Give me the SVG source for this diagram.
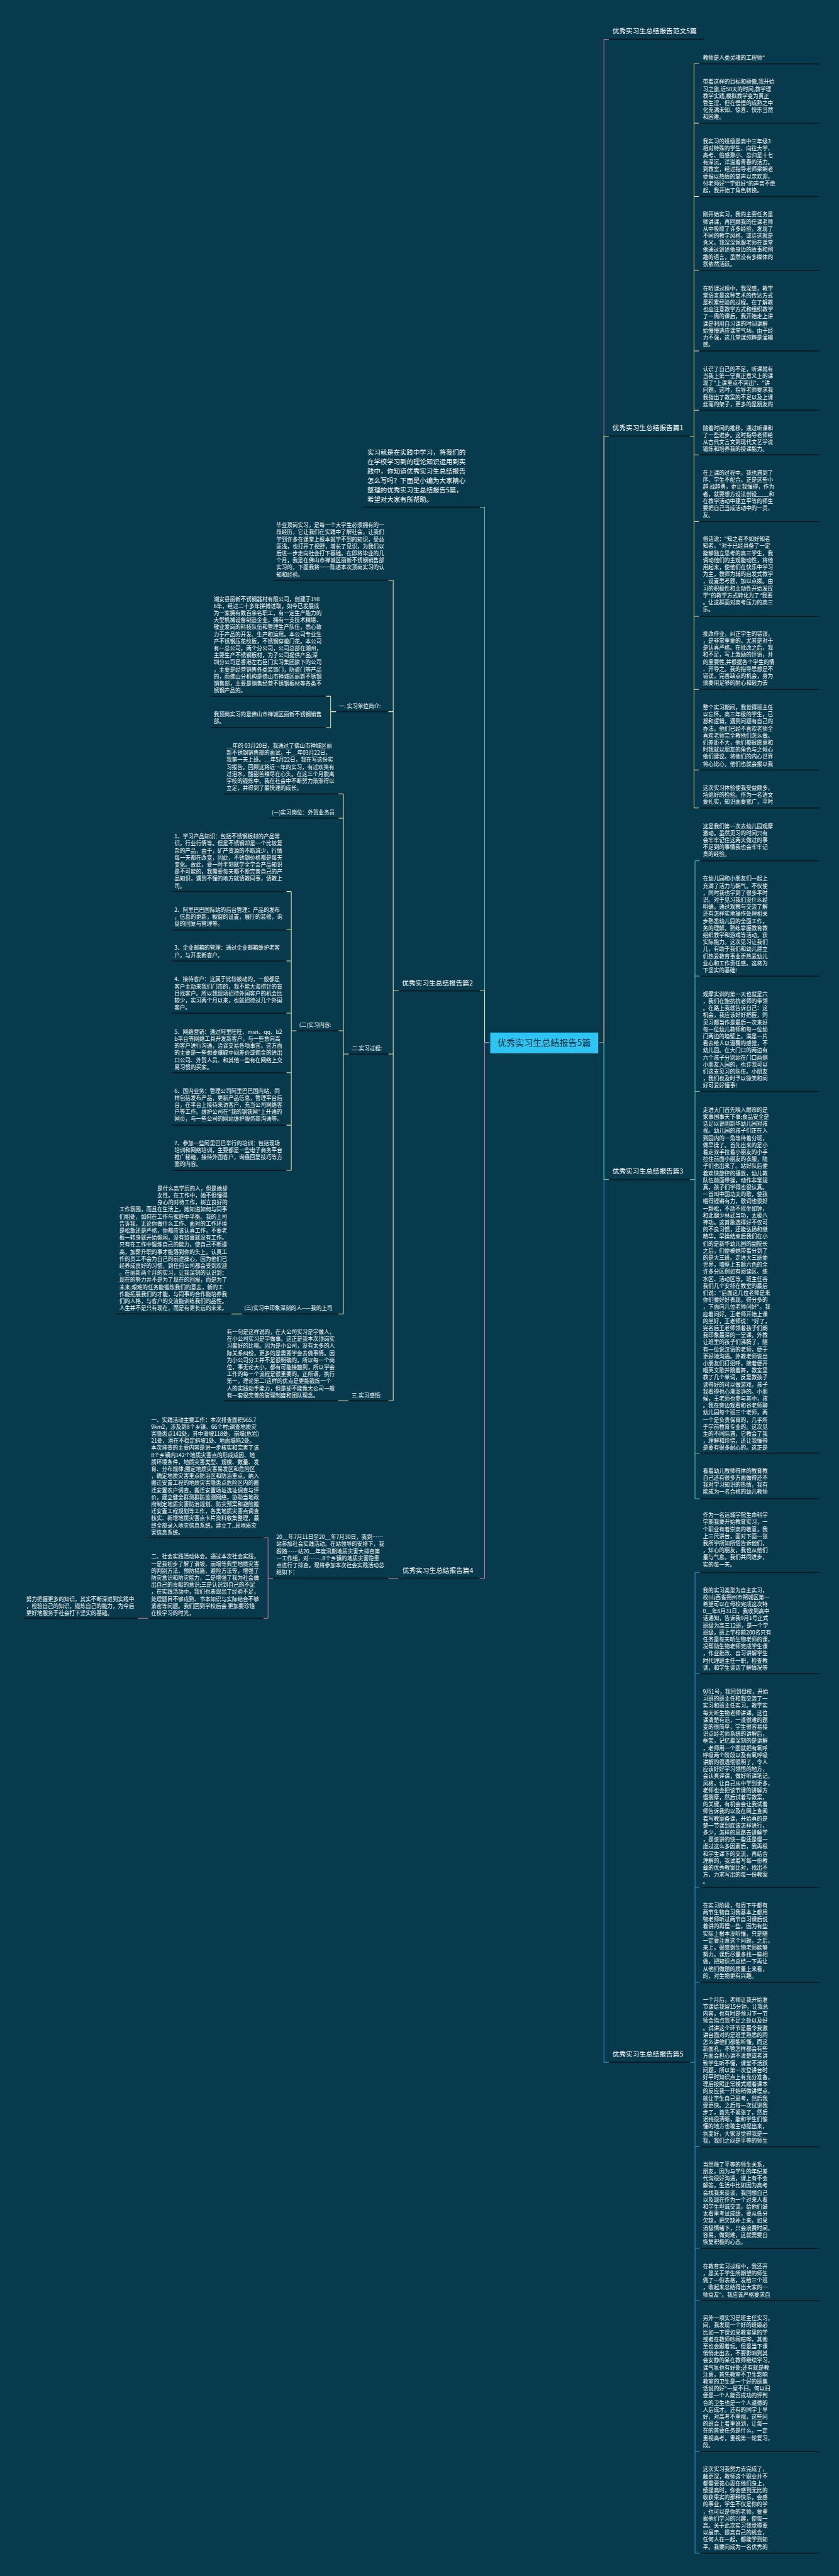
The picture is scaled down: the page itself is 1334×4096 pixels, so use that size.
<svg xmlns="http://www.w3.org/2000/svg" width="1334" height="4096" viewBox="0 0 1334 4096">
<style>
.t{font-family:"Noto Sans CJK SC","Liberation Sans",sans-serif;fill:#ffffff;font-size:16.5px}
.lb{font-size:20.5px}
.in{font-size:20px}
.ul{stroke:#0b1b23;stroke-width:3.5;fill:none}
.cy{stroke:#efe3a2;stroke-width:2;fill:none}
.cp{stroke:#d4729a;stroke-width:2;fill:none}
.ct{stroke:#52c7a6;stroke-width:2;fill:none}
.cb{stroke:#3b92c6;stroke-width:2;fill:none}
</style>
<rect width="1334" height="4096" fill="#063a4c"/>
<g transform="scale(0.521)">
<g id="connectors">
<path class="cp" d="M1827 3182H1843V120H1858"/>
<path class="cy" d="M1843 3182V1331H1858"/>
<path class="cb" d="M1843 3182V6294H1858"/>
<path class="ct" d="M1843 3182V3600H1858"/>
<path class="ct" d="M1495 3182H1479V1548H1464"/>
<path class="cy" d="M1479 3182V3024H1464"/>
<path class="cp" d="M1495 3182H1479V4817H1464"/>
<path class="cy" d="M2105 1331H2118M2118 195V2466M2118 195H2134M2118 376H2134M2118 600H2134M2118 825H2134M2118 1071H2134M2118 1252H2134M2118 1388H2134M2118 1592H2134M2118 1881H2134M2118 2104H2134M2118 2350H2134M2118 2466H2134"/>
<path class="ct" d="M2105 3600H2121M2121 2627V4574M2121 2627H2136M2121 2979H2136M2121 3331H2136M2121 4435H2136M2121 4574H2136"/>
<path class="cb" d="M2105 6294H2121M2121 4799V7792M2121 4799H2136M2121 5108H2136M2121 5760H2136M2121 6050H2136M2121 6552H2136M2121 6862H2136M2121 7021H2136M2121 7482H2136M2121 7792H2136"/>
<path class="cy" d="M1217 3024H1200M1200 1771V4275M1200 1771H1185M1200 2172H1185M1200 3217H1185M1200 4275H1185"/>
<path class="cy" d="M1026 2172H1009M1009 2125V2221M1009 2125H994M1009 2221H994"/>
<path class="cy" d="M1065 3217H1048M1048 2423V4010M1048 2423H1033M1048 2497H1033M1048 3146H1033M1048 4010H1033"/>
<path class="cy" d="M905 3146H889M889 2721V3572M889 2721H874M889 2838H874M889 2933H874M889 3092H874M889 3274H874M889 3434H874M889 3572H874"/>
<path class="cy" d="M739 4010H706M1064 4275H1032"/>
<path class="cp" d="M1216 4817H1185M833 4817H818M818 4693V4939M818 4693H804M818 4939H804M453 4939H421"/>
</g>
<g id="central">
<rect x="1495" y="3150" width="332" height="66" fill="#2ec4f3" stroke="#0a2632" stroke-width="2"/>
<text class="t" x="1661" y="3192" text-anchor="middle" style="fill:#16323f;font-size:27px">优秀实习生总结报告5篇</text>
</g>
<g id="b0"><line class="ul" x1="1858" y1="120" x2="2148" y2="120"/><text class="t lb" x="1869" y="101">优秀实习生总结报告范文5篇</text></g>
<g id="b1"><line class="ul" x1="1858" y1="1331" x2="2105" y2="1331"/><text class="t lb" x="1869" y="1312">优秀实习生总结报告篇1</text></g>
<g id="b3"><line class="ul" x1="1858" y1="3600" x2="2105" y2="3600"/><text class="t lb" x="1869" y="3582">优秀实习生总结报告篇3</text></g>
<g id="b5"><line class="ul" x1="1858" y1="6294" x2="2105" y2="6294"/><text class="t lb" x="1869" y="6276">优秀实习生总结报告篇5</text></g>
<g id="b2"><line class="ul" x1="1217" y1="3024" x2="1464" y2="3024"/><text class="t lb" x="1227" y="3007">优秀实习生总结报告篇2</text></g>
<g id="b4"><line class="ul" x1="1216" y1="4817" x2="1464" y2="4817"/><text class="t lb" x="1228" y="4800">优秀实习生总结报告篇4</text></g>
<g id="intro"><line class="ul" x1="1109" y1="1548" x2="1464" y2="1548"/>
<text class="t in" x="1121" y="1388"><tspan>实习就是在实践中学习，将我们的</tspan><tspan x="1121" dy="28.6">在学校学习到的理论知识运用到实</tspan><tspan x="1121" dy="28.6">践中，你知道优秀实习生总结报告</tspan><tspan x="1121" dy="28.6">怎么写吗？下面是小编为大家精心</tspan><tspan x="1121" dy="28.6">整理的优秀实习生总结报告5篇，</tspan><tspan x="1121" dy="28.6">希望对大家有所帮助。</tspan></text></g>
<g id="p2a"><line class="ul" x1="834" y1="1771" x2="1185" y2="1771"/>
<text class="t" x="843" y="1609"><tspan>毕业顶岗实习，是每一个大学生必须拥有的一</tspan><tspan x="843" dy="21.5">段经历，它让我们在实践中了解社会，让我们</tspan><tspan x="843" dy="21.5">学到许多在课堂上根本就学不到的知识，受益</tspan><tspan x="843" dy="21.5">匪浅，也打开了视野，增长了见识，为我们以</tspan><tspan x="843" dy="21.5">后进一步走向社会打下基础。在即将毕业的几</tspan><tspan x="843" dy="21.5">个月，我是在佛山市禅城区丽新不锈钢销售部</tspan><tspan x="843" dy="21.5">实习的，下面我将一一陈述本次顶岗实习的认</tspan><tspan x="843" dy="21.5">知和经验。</tspan></text></g>
<g id="p2b"><line class="ul" x1="1026" y1="2172" x2="1185" y2="2172"/><text class="t" x="1034" y="2161">一. 实习单位简介:</text></g>
<g id="p2b1"><line class="ul" x1="644" y1="2125" x2="994" y2="2125"/>
<text class="t" x="652" y="1834"><tspan>潮安县丽新不锈钢器材有限公司，创建于198</tspan><tspan x="652" dy="21.5">6年，经过二十多年拼搏进取，如今已发展成</tspan><tspan x="652" dy="21.5">为一家拥有数百余名职工，有一定生产能力的</tspan><tspan x="652" dy="21.5">大型机械设备制造企业。拥有一支技术精堪、</tspan><tspan x="652" dy="21.5">敬业爱岗的科技队伍和管理生产队伍，悉心致</tspan><tspan x="652" dy="21.5">力于产品的开发、生产和运用。本公司专业生</tspan><tspan x="652" dy="21.5">产不锈钢压花纹板，不锈钢穿梭门花。本公司</tspan><tspan x="652" dy="21.5">有一总公司，两个分公司，公司总部在潮州，</tspan><tspan x="652" dy="21.5">主要生产不锈钢板材，为子公司提供产品;深</tspan><tspan x="652" dy="21.5">圳分公司是香港左右臣门实习集团旗下的公司</tspan><tspan x="652" dy="21.5">，主要是经营销售各类装饰门，防盗门等产品</tspan><tspan x="652" dy="21.5">的，而佛山分机构是佛山市禅城区丽新不锈钢</tspan><tspan x="652" dy="21.5">销售部，主要是销售经营不锈钢板材等各类不</tspan><tspan x="652" dy="21.5">锈钢产品的。</tspan></text></g>
<g id="p2b2"><line class="ul" x1="644" y1="2221" x2="994" y2="2221"/>
<text class="t" x="652" y="2186"><tspan>我顶岗实习的是佛山市禅城区丽新不锈钢销售</tspan><tspan x="652" dy="21.5">部。</tspan></text></g>
<g id="p2c"><line class="ul" x1="1065" y1="3217" x2="1185" y2="3217"/><text class="t" x="1074" y="3205">二.实习过程:</text></g>
<g id="p2c1"><line class="ul" x1="683" y1="2423" x2="1033" y2="2423"/>
<text class="t" x="691" y="2282"><tspan>__年的 03月20日，我通过了佛山市禅城区丽</tspan><tspan x="691" dy="21.5">新不锈钢销售部的面试，于__年03月22日，</tspan><tspan x="691" dy="21.5">我第一天上班。__年5月22日，我在写这份实</tspan><tspan x="691" dy="21.5">习报告。回顾这将近一年的实习，有过欢笑有</tspan><tspan x="691" dy="21.5">过泪水，酸甜苦辣尽在心头。在这三个月脱离</tspan><tspan x="691" dy="21.5">学校的锻炼中，我在社会中不断努力渐渐得以</tspan><tspan x="691" dy="21.5">立足，并得到了最快速的成长。</tspan></text></g>
<g id="p2c2"><line class="ul" x1="821" y1="2497" x2="1033" y2="2497"/><text class="t" x="829" y="2485">(一)实习岗位：外贸业务员</text></g>
<g id="p2c3"><line class="ul" x1="905" y1="3146" x2="1033" y2="3146"/><text class="t" x="913" y="3134">(二)实习内容:</text></g>
<g id="p2c31"><line class="ul" x1="524" y1="2721" x2="874" y2="2721"/>
<text class="t" x="532" y="2559"><tspan>1、学习产品知识：包括不锈钢板材的产品常</tspan><tspan x="532" dy="21.5">识，行业行情等。但是不锈钢却是一个比较复</tspan><tspan x="532" dy="21.5">杂的产品，由于，矿产资源的不断减少，行情</tspan><tspan x="532" dy="21.5">每一天都在改变，因此，不锈钢价格都是每天</tspan><tspan x="532" dy="21.5">变化。故此，要一时半刻就学全学会产品知识</tspan><tspan x="532" dy="21.5">是不可能的，我需要每天都不断完善自己的产</tspan><tspan x="532" dy="21.5">品知识，遇到不懂的地方就请教同事，请教上</tspan><tspan x="532" dy="21.5">司。</tspan></text></g>
<g id="p2c32"><line class="ul" x1="524" y1="2838" x2="874" y2="2838"/>
<text class="t" x="532" y="2783"><tspan>2、阿里巴巴国际站的后台管理：产品的发布</tspan><tspan x="532" dy="21.5">，信息的更新，橱窗的设置，展厅的装修，询</tspan><tspan x="532" dy="21.5">盘的回复与管理等。</tspan></text></g>
<g id="p2c33"><line class="ul" x1="524" y1="2933" x2="874" y2="2933"/>
<text class="t" x="532" y="2899"><tspan>3、企业邮箱的管理：通过企业邮箱维护老客</tspan><tspan x="532" dy="21.5">户，与开发新客户。</tspan></text></g>
<g id="p2c34"><line class="ul" x1="524" y1="3092" x2="874" y2="3092"/>
<text class="t" x="532" y="2995"><tspan>4、接待客户：这属于比较被动的，一般都是</tspan><tspan x="532" dy="21.5">客户主动来我们门市的，我不能大海捞针的盲</tspan><tspan x="532" dy="21.5">目找客户。所以我现场招待外国客户的机会比</tspan><tspan x="532" dy="21.5">较少，实习两个月以来，也就招待过几个外国</tspan><tspan x="532" dy="21.5">客户。</tspan></text></g>
<g id="p2c35"><line class="ul" x1="524" y1="3274" x2="874" y2="3274"/>
<text class="t" x="532" y="3155"><tspan>5、网络营销：通过阿里旺旺、msn、qq、b2</tspan><tspan x="532" dy="21.5">b平台等网络工具开发新客户，与一些意向高</tspan><tspan x="532" dy="21.5">的客户进行沟通，洽谈交易各项事宜。这方面</tspan><tspan x="532" dy="21.5">的主要是一些想要赚取中间差价或佣金的进出</tspan><tspan x="532" dy="21.5">口公司、外贸人员、和其他一些有在网络上交</tspan><tspan x="532" dy="21.5">易习惯的买家。</tspan></text></g>
<g id="p2c36"><line class="ul" x1="524" y1="3434" x2="874" y2="3434"/>
<text class="t" x="532" y="3335"><tspan>6、国内业务：管理公司阿里巴巴国内站，同</tspan><tspan x="532" dy="21.5">样包括发布产品，更新产品信息，管理平台后</tspan><tspan x="532" dy="21.5">台，在平台上接待来访客户，充当公司网络客</tspan><tspan x="532" dy="21.5">户等工作。维护公司在"我的钢铁网"上开通的</tspan><tspan x="532" dy="21.5">网页，与一些公司的网站维护服务商沟通等。</tspan></text></g>
<g id="p2c37"><line class="ul" x1="524" y1="3572" x2="874" y2="3572"/>
<text class="t" x="532" y="3495"><tspan>7、参加一些阿里巴巴举行的培训：包括现场</tspan><tspan x="532" dy="21.5">培训和网络培训，主要都是一些电子商务平台</tspan><tspan x="532" dy="21.5">推广秘籍，接待外国客户，询盘回复技巧等方</tspan><tspan x="532" dy="21.5">面的内容。</tspan></text></g>
<g id="p2c4"><line class="ul" x1="739" y1="4010" x2="1033" y2="4010"/><text class="t" x="745" y="3998">(三)实习中印象深刻的人——我的上司</text></g>
<g id="p2c41"><line class="ul" x1="356" y1="4010" x2="706" y2="4010"/>
<text class="t" x="480" y="3633"><tspan>是什么高学历的人，但是她却</tspan><tspan x="480" dy="21.5">女性。在工作中，她不但懂得</tspan><tspan x="480" dy="21.5">身心的对待工作，树立良好的</tspan><tspan x="364" dy="21.5">工作氛围，而且在生活上，她知道如何与同事</tspan><tspan x="364" dy="21.5">们相处，如何在工作与家庭中平衡。我的上司</tspan><tspan x="364" dy="21.5">告诉我，无论你做什么工作、面对的工作环境</tspan><tspan x="364" dy="21.5">是松散还是严格，你都应该认真工作，不要老</tspan><tspan x="364" dy="21.5">板一转身就开始偷闲，没有监督就没有工作。</tspan><tspan x="364" dy="21.5">只有在工作中锻炼自己的能力，使自己不断提</tspan><tspan x="364" dy="21.5">高，加薪升职的事才能落到你的头上。认真工</tspan><tspan x="364" dy="21.5">作的员工不会为自己的前途操心，因为他们已</tspan><tspan x="364" dy="21.5">经养成良好的习惯，到任何公司都会受到欢迎</tspan><tspan x="364" dy="21.5">。在丽新两个月的实习，让我深刻的认识到：</tspan><tspan x="364" dy="21.5">现在的努力并不是为了现在的回报，而是为了</tspan><tspan x="364" dy="21.5">未来;艰难的任务能锻炼我们的意志，新的工</tspan><tspan x="364" dy="21.5">作能拓展我们的才能，与同事的合作能培养我</tspan><tspan x="364" dy="21.5">们的人格，与客户的交流能训练我们的品性。</tspan><tspan x="364" dy="21.5">人生并不是只有现在，而是有更长远的未来。</tspan></text></g>
<g id="p2d"><line class="ul" x1="1064" y1="4275" x2="1185" y2="4275"/><text class="t" x="1073" y="4265">三.实习感悟:</text></g>
<g id="p2d1"><line class="ul" x1="683" y1="4275" x2="1032" y2="4275"/>
<text class="t" x="692" y="4071"><tspan>有一句是这样说的，在大公司实习是学做人，</tspan><tspan x="692" dy="21.5">在小公司实习是学做事。这正是我本次顶岗实</tspan><tspan x="692" dy="21.5">习最好的比喻。因为是小公司，没有太多的人</tspan><tspan x="692" dy="21.5">际关系纠纷，更多的是需要学会去做事情。因</tspan><tspan x="692" dy="21.5">为小公司分工并不是很明确的，所以每一个岗</tspan><tspan x="692" dy="21.5">位，事无论大小，都有可能接触到，所以学会</tspan><tspan x="692" dy="21.5">工作的每一个流程是很重要的。正所谓，执行</tspan><tspan x="692" dy="21.5">第一，理论第二!这样的优点是更能锻炼一个</tspan><tspan x="692" dy="21.5">人的实践动手能力，但是却不能像大公司一般</tspan><tspan x="692" dy="21.5">有一套很完善的管理制度和团队理念。</tspan></text></g>
<g id="p4a"><line class="ul" x1="833" y1="4817" x2="1185" y2="4817"/>
<text class="t" x="843" y="4697"><tspan>20__年7月11日至20__年7月30日，我到……</tspan><tspan x="843" dy="21.5">站参加社会实践活动。在站领导的安排下，我</tspan><tspan x="843" dy="21.5">跟随……站20__年度汛期地质灾害大排查第</tspan><tspan x="843" dy="21.5">一工作组，对……..8个乡镇的地质灾害隐患</tspan><tspan x="843" dy="21.5">点进行了排查。现将参加本次社会实践活动总</tspan><tspan x="843" dy="21.5">结如下：</tspan></text></g>
<g id="p4b"><line class="ul" x1="453" y1="4693" x2="804" y2="4693"/>
<text class="t" x="461" y="4339"><tspan>一、实践活动主要工作：本次排查面积965.7</tspan><tspan x="461" dy="21.5">9km2，涉及到8个乡镇、66个村;调查地质灾</tspan><tspan x="461" dy="21.5">害隐患点142处，其中滑坡118处、崩塌(危岩)</tspan><tspan x="461" dy="21.5">21处、潜在不稳定斜坡1处、地面塌陷2处。</tspan><tspan x="461" dy="21.5">本次排查的主要内容是进一步核实和完善了该</tspan><tspan x="461" dy="21.5">8个乡镇内142个地质灾害点的形成成因、地</tspan><tspan x="461" dy="21.5">质环境条件，地质灾害类型、规模、数量、发</tspan><tspan x="461" dy="21.5">育、分布规律;圈定地质灾害易发区和危险区</tspan><tspan x="461" dy="21.5">，确定地质灾害重点防治区和防治重点，纳入</tspan><tspan x="461" dy="21.5">搬迁安置工程的地质灾害隐患点危险区内的搬</tspan><tspan x="461" dy="21.5">迁安置农户调查，搬迁安置场址选址调查与评</tspan><tspan x="461" dy="21.5">价，建立健全群测群防监测网络，协助当地政</tspan><tspan x="461" dy="21.5">府制定地质灾害防治规划、防灾预案和避险搬</tspan><tspan x="461" dy="21.5">迁安置工程规划等工作，各类地质灾害点调查</tspan><tspan x="461" dy="21.5">核实、新增地质灾害点卡片资料收集整理，最</tspan><tspan x="461" dy="21.5">终全部录入地灾信息系统，建立了..县地质灾</tspan><tspan x="461" dy="21.5">害信息系统。</tspan></text></g>
<g id="p4c"><line class="ul" x1="453" y1="4939" x2="804" y2="4939"/>
<text class="t" x="461" y="4757"><tspan>二、社会实践活动体会。通过本次社会实践，</tspan><tspan x="461" dy="21.5">一是我初步了解了滑坡、崩塌等典型地质灾害</tspan><tspan x="461" dy="21.5">的判别方法、预防措施、避险方法等，增强了</tspan><tspan x="461" dy="21.5">防灾意识和防灾能力，二是增强了我为社会做</tspan><tspan x="461" dy="21.5">出自己的贡献的意识;三是认识到自己的不足</tspan><tspan x="461" dy="21.5">，在实践活动中，我们也表现出了经验不足，</tspan><tspan x="461" dy="21.5">处理题目不够成熟、书本知识与实际结合不够</tspan><tspan x="461" dy="21.5">紧密等问题。我们回到学校后会 更加要珍惜</tspan><tspan x="461" dy="21.5">在校学习的时光，</tspan></text></g>
<g id="p4c1"><line class="ul" x1="71" y1="4939" x2="421" y2="4939"/>
<text class="t" x="80" y="4886"><tspan>努力把握更多的知识，其实不断深进到实践中</tspan><tspan x="80" dy="21.5">，检验自己的知识，锻炼自己的能力，为今后</tspan><tspan x="80" dy="21.5">更好地服务于社会打下坚实的基础。</tspan></text></g>
<g id="r1">
<line class="ul" x1="2134" y1="195" x2="2500" y2="195"/><line class="ul" x1="2134" y1="376" x2="2500" y2="376"/><line class="ul" x1="2134" y1="600" x2="2500" y2="600"/><line class="ul" x1="2134" y1="825" x2="2500" y2="825"/><line class="ul" x1="2134" y1="1071" x2="2500" y2="1071"/><line class="ul" x1="2134" y1="1252" x2="2500" y2="1252"/><line class="ul" x1="2134" y1="1388" x2="2500" y2="1388"/><line class="ul" x1="2134" y1="1592" x2="2500" y2="1592"/><line class="ul" x1="2134" y1="1881" x2="2500" y2="1881"/><line class="ul" x1="2134" y1="2104" x2="2500" y2="2104"/><line class="ul" x1="2134" y1="2350" x2="2500" y2="2350"/><line class="ul" x1="2134" y1="2466" x2="2500" y2="2466"/>
<text class="t" x="2145" y="183">教师是人类灵魂的工程师"</text>
<text class="t" x="2145" y="256"><tspan>带着这样的目标和骄傲,我开始</tspan><tspan x="2145" dy="21.5">习之旅,近50天的时间,教学理</tspan><tspan x="2145" dy="21.5">教学实践,模拟教学变为真正</tspan><tspan x="2145" dy="21.5">管生涩、但在慢慢的成熟之中</tspan><tspan x="2145" dy="21.5">化充满未知、惊喜、快乐当然</tspan><tspan x="2145" dy="21.5">和困难。</tspan></text>
<text class="t" x="2145" y="437"><tspan>我实习的班级是高中三年级3</tspan><tspan x="2145" dy="21.5">相对特殊的学生、向往大学、</tspan><tspan x="2145" dy="21.5">高考、倍感渺小、总归是十七</tspan><tspan x="2145" dy="21.5">有深沉，洋溢着青春的活力。</tspan><tspan x="2145" dy="21.5">到教室，经过指导老师梁朝老</tspan><tspan x="2145" dy="21.5">便报以热情的掌声以示欢迎，</tspan><tspan x="2145" dy="21.5">付老师好""学姐好"的声音不绝</tspan><tspan x="2145" dy="21.5">起，我开始了角色转换。</tspan></text>
<text class="t" x="2145" y="661"><tspan>刚开始实习，我的主要任务是</tspan><tspan x="2145" dy="21.5">师讲课，再回顾我的任课老师</tspan><tspan x="2145" dy="21.5">从中吸取了许多经验，发现了</tspan><tspan x="2145" dy="21.5">不同的教学风格，或许这就是</tspan><tspan x="2145" dy="21.5">含义。我深深佩服老师在课堂</tspan><tspan x="2145" dy="21.5">他通过讲述他身边的故事和例</tspan><tspan x="2145" dy="21.5">趣的语言，虽然没有多媒体的</tspan><tspan x="2145" dy="21.5">氛依然活跃。</tspan></text>
<text class="t" x="2145" y="886"><tspan>在听课过程中，我深感，教学</tspan><tspan x="2145" dy="21.5">堂语言是这种艺术的传达方式</tspan><tspan x="2145" dy="21.5">是积累经验的过程。在了解教</tspan><tspan x="2145" dy="21.5">也应注意教学方式和组织教学</tspan><tspan x="2145" dy="21.5">了一周的课后，我开始走上讲</tspan><tspan x="2145" dy="21.5">课是利用自习课的时间讲解</tspan><tspan x="2145" dy="21.5">始慢慢适应课堂气场。由于经</tspan><tspan x="2145" dy="21.5">力不强，这几堂课纯粹是灌输</tspan><tspan x="2145" dy="21.5">感。</tspan></text>
<text class="t" x="2145" y="1132"><tspan>认识了自己的不足，听课就有</tspan><tspan x="2145" dy="21.5">当我上第一堂真正意义上的课</tspan><tspan x="2145" dy="21.5">现了"上课重点不突出"、"讲</tspan><tspan x="2145" dy="21.5">问题。这时，指导老师要求我</tspan><tspan x="2145" dy="21.5">我指出了教案的不足以及上课</tspan><tspan x="2145" dy="21.5">丝毫的架子，更多的是朋友的</tspan></text>
<text class="t" x="2145" y="1312"><tspan>随着时间的推移，通过听课和</tspan><tspan x="2145" dy="21.5">了一些进步。这时指导老师给</tspan><tspan x="2145" dy="21.5">从古代文言文到现代文艺学说</tspan><tspan x="2145" dy="21.5">锻炼和培养我的授课能力。</tspan></text>
<text class="t" x="2145" y="1449"><tspan>在上课的过程中，我也遇到了</tspan><tspan x="2145" dy="21.5">序、学生不配合。正是这些小</tspan><tspan x="2145" dy="21.5">越 战越勇，更让我懂得，作为</tspan><tspan x="2145" dy="21.5">者，就要想方设法创设____和</tspan><tspan x="2145" dy="21.5">在教学活动中建立平等的师生</tspan><tspan x="2145" dy="21.5">要把自己当成活动中的一员、</tspan><tspan x="2145" dy="21.5">友。</tspan></text>
<text class="t" x="2145" y="1651"><tspan>俗话说："知之者不如好知者</tspan><tspan x="2145" dy="21.5">知者。"对于已经具备了一定</tspan><tspan x="2145" dy="21.5">能够独立思考的高三学生，我</tspan><tspan x="2145" dy="21.5">调动他们的主观能动性，将他</tspan><tspan x="2145" dy="21.5">用起来，使他们在快乐中学习</tspan><tspan x="2145" dy="21.5">为主，教师为辅的启发式教学</tspan><tspan x="2145" dy="21.5">，设置思考题，加以点拨。由</tspan><tspan x="2145" dy="21.5">习的积极性和主动性开始发挥</tspan><tspan x="2145" dy="21.5">学"的教学方式转化为了"我要</tspan><tspan x="2145" dy="21.5">。让这群面对高考压力的高三</tspan><tspan x="2145" dy="21.5">乐。</tspan></text>
<text class="t" x="2145" y="1940"><tspan>批改作业，纠正学生的错误，</tspan><tspan x="2145" dy="21.5">，是非常重要的。尤其是对于</tspan><tspan x="2145" dy="21.5">是认真严格。在批改之后，我</tspan><tspan x="2145" dy="21.5">和不足，写上激励的评语，并</tspan><tspan x="2145" dy="21.5">的重要性,并根据各个学生的情</tspan><tspan x="2145" dy="21.5">、开导之。我的指导思想是不</tspan><tspan x="2145" dy="21.5">错误，完善缺点的机会，身为</tspan><tspan x="2145" dy="21.5">须要用足够的耐心和毅力去</tspan></text>
<text class="t" x="2145" y="2165"><tspan>整个实习期间，我觉得班主任</tspan><tspan x="2145" dy="21.5">以忘怀。高三年级的学生，已</tspan><tspan x="2145" dy="21.5">想和逻辑，遇到问题有自己的</tspan><tspan x="2145" dy="21.5">办法。他们已经不喜欢老师全</tspan><tspan x="2145" dy="21.5">喜欢老师完全教他们怎么做。</tspan><tspan x="2145" dy="21.5">们差距不大，他们都很愿意和</tspan><tspan x="2145" dy="21.5">时我就以朋友的角色与之倾心</tspan><tspan x="2145" dy="21.5">他们建议。将他们的内心世界</tspan><tspan x="2145" dy="21.5">将心比心，他们也就会报以我</tspan></text>
<text class="t" x="2145" y="2410"><tspan>这次实习体验使我受益颇多，</tspan><tspan x="2145" dy="21.5">场绝好的检验。作为一名语文</tspan><tspan x="2145" dy="21.5">要扎实，知识面要宽广，平时</tspan></text>
</g>
<g id="r3">
<line class="ul" x1="2136" y1="2627" x2="2500" y2="2627"/><line class="ul" x1="2136" y1="2979" x2="2500" y2="2979"/><line class="ul" x1="2136" y1="3331" x2="2500" y2="3331"/><line class="ul" x1="2136" y1="4435" x2="2500" y2="4435"/><line class="ul" x1="2136" y1="4574" x2="2500" y2="4574"/>
<text class="t" x="2145" y="2527"><tspan>这是我们第一次去幼儿园观摩</tspan><tspan x="2145" dy="21.5">激动。虽然见习的时间只有</tspan><tspan x="2145" dy="21.5">会牢牢记住这两天做过的事</tspan><tspan x="2145" dy="21.5">不足到的事情我也会牢牢记</tspan><tspan x="2145" dy="21.5">贵的经验。</tspan></text>
<text class="t" x="2145" y="2688"><tspan>在幼儿园和小朋友们一起上</tspan><tspan x="2145" dy="21.5">充满了活力与朝气。不仅使</tspan><tspan x="2145" dy="21.5">，同时我也学到了很多平时</tspan><tspan x="2145" dy="21.5">识。对于见习我们没什么经</tspan><tspan x="2145" dy="21.5">明确。通过观察与交流了解</tspan><tspan x="2145" dy="21.5">还有怎样实地操作处理相关</tspan><tspan x="2145" dy="21.5">步熟悉幼儿园的全面工作，</tspan><tspan x="2145" dy="21.5">务的理解。熟练掌握教育教</tspan><tspan x="2145" dy="21.5">组织教学和游戏等活动，获</tspan><tspan x="2145" dy="21.5">实际能力。这次见习让我们</tspan><tspan x="2145" dy="21.5">儿，有助于我们和幼儿建立</tspan><tspan x="2145" dy="21.5">们热爱教育事业更热爱幼儿</tspan><tspan x="2145" dy="21.5">业心和工作责任感。这将为</tspan><tspan x="2145" dy="21.5">下坚实的基础!</tspan></text>
<text class="t" x="2145" y="3040"><tspan>观摩实训的第一天也就是六</tspan><tspan x="2145" dy="21.5">，我们在鲍抗抗老师的带领</tspan><tspan x="2145" dy="21.5">。在路上我就告诉自己：这</tspan><tspan x="2145" dy="21.5">机会，我应该好好把握，同</tspan><tspan x="2145" dy="21.5">见习都当作是最后一次来好</tspan><tspan x="2145" dy="21.5">每一位幼儿教师和每一位幼</tspan><tspan x="2145" dy="21.5">门两边的墙壁上，满是一片</tspan><tspan x="2145" dy="21.5">看去给人以温馨的感觉，不</tspan><tspan x="2145" dy="21.5">幼儿园。在大门口的两边有</tspan><tspan x="2145" dy="21.5">六个孩子分别站在门口两侧</tspan><tspan x="2145" dy="21.5">小朋友入园的，也许我可以</tspan><tspan x="2145" dy="21.5">们这支见习的队伍。小朋友</tspan><tspan x="2145" dy="21.5">，我们也及时予以微笑和问</tspan><tspan x="2145" dy="21.5">好可爱好懂事!</tspan></text>
<text class="t" x="2145" y="3393"><tspan>走进大门首先映入眼帘的是</tspan><tspan x="2145" dy="21.5">家事国事天下事;食品安全是</tspan><tspan x="2145" dy="21.5">话足以说明新华幼儿园对孩</tspan><tspan x="2145" dy="21.5">视。幼儿园的孩子们正在入</tspan><tspan x="2145" dy="21.5">到园内的一角等待着分班，</tspan><tspan x="2145" dy="21.5">做早操了。首先出来的是小</tspan><tspan x="2145" dy="21.5">着走双手拉着小朋友的小手</tspan><tspan x="2145" dy="21.5">拉住前面小朋友的衣服，陆</tspan><tspan x="2145" dy="21.5">子们也出来了。站好队后便</tspan><tspan x="2145" dy="21.5">着欢快旋律的播放，幼儿教</tspan><tspan x="2145" dy="21.5">队伍前面带操，动作非常规</tspan><tspan x="2145" dy="21.5">真，孩子们学得也很认真。</tspan><tspan x="2145" dy="21.5">一首叫中国功夫的歌，使孩</tspan><tspan x="2145" dy="21.5">唱得铿锵有力，歌词也很好</tspan><tspan x="2145" dy="21.5">一颗松，不动不摇坐如钟，</tspan><tspan x="2145" dy="21.5">和北腿少林武当功，太极八</tspan><tspan x="2145" dy="21.5">神功。这首歌选得好不仅可</tspan><tspan x="2145" dy="21.5">的不良习惯，还能弘扬和继</tspan><tspan x="2145" dy="21.5">精华。早操结束后我们在小</tspan><tspan x="2145" dy="21.5">们的是新华幼儿园的副院长</tspan><tspan x="2145" dy="21.5">之后，们便被她带着分到了</tspan><tspan x="2145" dy="21.5">的是大三班。走进大三班便</tspan><tspan x="2145" dy="21.5">世界，墙壁上五颜六色的全</tspan><tspan x="2145" dy="21.5">许多分区例如有阅读区、练</tspan><tspan x="2145" dy="21.5">水区、活动区等。班主任谷</tspan><tspan x="2145" dy="21.5">我们几个安排在教室的最后</tspan><tspan x="2145" dy="21.5">们说："后面这几位老师是来</tspan><tspan x="2145" dy="21.5">你们要好好表现，得分多的</tspan><tspan x="2145" dy="21.5">，下面向几位老师问好"。我</tspan><tspan x="2145" dy="21.5">应着问好。王老师开始上课</tspan><tspan x="2145" dy="21.5">的坐好，王老师说："好了，</tspan><tspan x="2145" dy="21.5">完名后王老师领着孩子们朗</tspan><tspan x="2145" dy="21.5">我印象最深的一堂课，外教</tspan><tspan x="2145" dy="21.5">让班里的孩子们沸腾了，随</tspan><tspan x="2145" dy="21.5">有一位说汉语的老师，便于</tspan><tspan x="2145" dy="21.5">更好地沟通。外教老师说出</tspan><tspan x="2145" dy="21.5">小朋友们打招呼，接着便开</tspan><tspan x="2145" dy="21.5">唱英文歌并跳着舞，教室里</tspan><tspan x="2145" dy="21.5">教了几个单词，反复教孩子</tspan><tspan x="2145" dy="21.5">读得好的可以做游戏，孩子</tspan><tspan x="2145" dy="21.5">我看得也心潮澎湃的。小朋</tspan><tspan x="2145" dy="21.5">候，王老师也参与其中，孩</tspan><tspan x="2145" dy="21.5">。我在旁边观看和谷老师聊</tspan><tspan x="2145" dy="21.5">幼儿园每个班三个老师，两</tspan><tspan x="2145" dy="21.5">一个是负责保育的，几乎所</tspan><tspan x="2145" dy="21.5">于学前教育专业的。这次见</tspan><tspan x="2145" dy="21.5">生的不同际遇，它教会了我</tspan><tspan x="2145" dy="21.5">，理解和珍惜，还让我懂得</tspan><tspan x="2145" dy="21.5">是要有很多耐心的。这正是</tspan></text>
<text class="t" x="2145" y="4495"><tspan>看着幼儿教师得体的教育教</tspan><tspan x="2145" dy="21.5">自己还有很多方面做得还不</tspan><tspan x="2145" dy="21.5">我对学习知识的热情，我有</tspan><tspan x="2145" dy="21.5">能成为一名合格的幼儿教师</tspan></text>
</g>
<g id="r5">
<line class="ul" x1="2136" y1="4799" x2="2500" y2="4799"/><line class="ul" x1="2136" y1="5108" x2="2500" y2="5108"/><line class="ul" x1="2136" y1="5760" x2="2500" y2="5760"/><line class="ul" x1="2136" y1="6050" x2="2500" y2="6050"/><line class="ul" x1="2136" y1="6552" x2="2500" y2="6552"/><line class="ul" x1="2136" y1="6862" x2="2500" y2="6862"/><line class="ul" x1="2136" y1="7021" x2="2500" y2="7021"/><line class="ul" x1="2136" y1="7482" x2="2500" y2="7482"/><line class="ul" x1="2136" y1="7792" x2="2500" y2="7792"/>
<text class="t" x="2145" y="4630"><tspan>作为一名运城学院生命科学</tspan><tspan x="2145" dy="21.5">学期我要开始教育实习，一</tspan><tspan x="2145" dy="21.5">个职业有着崇高的敬意，我</tspan><tspan x="2145" dy="21.5">上三尺讲台，面对下面一张</tspan><tspan x="2145" dy="21.5">我所学所知所悟告诉他们，</tspan><tspan x="2145" dy="21.5">，知心的朋友，我也从他们</tspan><tspan x="2145" dy="21.5">量与气息，我们共同进步，</tspan><tspan x="2145" dy="21.5">实的每一天。</tspan></text>
<text class="t" x="2145" y="4859"><tspan>我的实习类型为自主实习，</tspan><tspan x="2145" dy="21.5">校(山西省朔州市朔城区第一</tspan><tspan x="2145" dy="21.5">希望可以在母校完成这次特</tspan><tspan x="2145" dy="21.5">0__年8月31日，我收到高中</tspan><tspan x="2145" dy="21.5">话通知，告诉我9月1号正式</tspan><tspan x="2145" dy="21.5">班级为高三12班，是一个学</tspan><tspan x="2145" dy="21.5">班级，班上学校前200名只有</tspan><tspan x="2145" dy="21.5">任务是每天听生物老师的课，</tspan><tspan x="2145" dy="21.5">况帮助生物老师完成学生课</tspan><tspan x="2145" dy="21.5">，作业批改、自习讲解学生</tspan><tspan x="2145" dy="21.5">时代理班主任一职，检查教</tspan><tspan x="2145" dy="21.5">读，和学生谈话了解情况等</tspan></text>
<text class="t" x="2145" y="5169"><tspan>9月1号，我回到母校，开始</tspan><tspan x="2145" dy="21.5">习班的班主任和我交流了一</tspan><tspan x="2145" dy="21.5">实习和班主任实习。教学实</tspan><tspan x="2145" dy="21.5">每天听生物老师讲课，这位</tspan><tspan x="2145" dy="21.5">课清楚有范，一道很难的题</tspan><tspan x="2145" dy="21.5">变的很简单，学生很容易接</tspan><tspan x="2145" dy="21.5">识点经老师系统的讲解后，</tspan><tspan x="2145" dy="21.5">框架，记忆最深刻的是讲解</tspan><tspan x="2145" dy="21.5">，老师用一个图就把有氧呼</tspan><tspan x="2145" dy="21.5">呼吸两个阶段以及有氧呼吸</tspan><tspan x="2145" dy="21.5">讲解的很透彻很明了，令人</tspan><tspan x="2145" dy="21.5">应该好好学习领悟的地方，</tspan><tspan x="2145" dy="21.5">会认真评课，做好听课笔记，</tspan><tspan x="2145" dy="21.5">风格，让自己从中学到更多，</tspan><tspan x="2145" dy="21.5">老师也会把该节课的讲解方</tspan><tspan x="2145" dy="21.5">慢揣摩，然后试着写教案，</tspan><tspan x="2145" dy="21.5">的关键，有机会会让我试着</tspan><tspan x="2145" dy="21.5">师告诉我的以及在网上查阅</tspan><tspan x="2145" dy="21.5">着写教案备课，开始真的是</tspan><tspan x="2145" dy="21.5">楚一节课到底该怎样进行，</tspan><tspan x="2145" dy="21.5">多少，怎样的思路去讲解学</tspan><tspan x="2145" dy="21.5">，是该讲的快一些还是慢一</tspan><tspan x="2145" dy="21.5">虑过这么多因素后，我再根</tspan><tspan x="2145" dy="21.5">和学生课下的交流，再结合</tspan><tspan x="2145" dy="21.5">理解的，我试着写每一份教</tspan><tspan x="2145" dy="21.5">载的优秀教案比对，找出不</tspan><tspan x="2145" dy="21.5">方，力求写出的每一份教案</tspan><tspan x="2145" dy="21.5">。</tspan></text>
<text class="t" x="2145" y="5821"><tspan>在实习阶段，每周下午都有</tspan><tspan x="2145" dy="21.5">两节生物自习我基本上都用</tspan><tspan x="2145" dy="21.5">物老师听过两节自习课后说</tspan><tspan x="2145" dy="21.5">着讲的再慢一些，因为有些</tspan><tspan x="2145" dy="21.5">实际上根本没听懂，只是随</tspan><tspan x="2145" dy="21.5">一定要注意这个问题，之后，</tspan><tspan x="2145" dy="21.5">来上，很感谢生物老师能够</tspan><tspan x="2145" dy="21.5">努力。课后尽量多找一些相</tspan><tspan x="2145" dy="21.5">做，把知识点总结一下再让</tspan><tspan x="2145" dy="21.5">从他们做题的质量上来看，</tspan><tspan x="2145" dy="21.5">的，对生物更有兴趣。</tspan></text>
<text class="t" x="2145" y="6109"><tspan>一个月后，老师让我开始准</tspan><tspan x="2145" dy="21.5">节课给我留15分钟，让我总</tspan><tspan x="2145" dy="21.5">内容，也有时是预习下一节</tspan><tspan x="2145" dy="21.5">师会指点我不足之处以及好</tspan><tspan x="2145" dy="21.5">。试讲这个环节是最令我激</tspan><tspan x="2145" dy="21.5">讲台面对的是班里熟悉的同</tspan><tspan x="2145" dy="21.5">怎么讲他们都能听懂，而这</tspan><tspan x="2145" dy="21.5">新面孔，不管怎样都会有些</tspan><tspan x="2145" dy="21.5">方面会担心讲不清楚或者讲</tspan><tspan x="2145" dy="21.5">致学生听不懂，课堂不活跃</tspan><tspan x="2145" dy="21.5">问题，所以第一次登讲台时</tspan><tspan x="2145" dy="21.5">好平时知识点上有充分准备，</tspan><tspan x="2145" dy="21.5">理后按照正常模式顺着课本</tspan><tspan x="2145" dy="21.5">的反应我一开始稍微讲慢点，</tspan><tspan x="2145" dy="21.5">就让学生自己思考，然后我</tspan><tspan x="2145" dy="21.5">受更快。之后每一次试讲我</tspan><tspan x="2145" dy="21.5">步了，首先不紧张了，然后</tspan><tspan x="2145" dy="21.5">迟钝很清晰，能和学生们愉</tspan><tspan x="2145" dy="21.5">懂的地方也敢主动提出来，</tspan><tspan x="2145" dy="21.5">氛变好，大家没觉得我是一</tspan><tspan x="2145" dy="21.5">我，我们之间是平等的师生</tspan></text>
<text class="t" x="2145" y="6612"><tspan>当然除了平等的师生关系，</tspan><tspan x="2145" dy="21.5">朋友，因为与学生的年纪差</tspan><tspan x="2145" dy="21.5">代沟很好沟通，课上有不会</tspan><tspan x="2145" dy="21.5">解答，生活中比如因为高考</tspan><tspan x="2145" dy="21.5">会找我来谈谈，我回想自己</tspan><tspan x="2145" dy="21.5">以及现在作为一个过来人看</tspan><tspan x="2145" dy="21.5">和学生坦诚交流，给他们鼓</tspan><tspan x="2145" dy="21.5">太看重考试成绩，要从低分</tspan><tspan x="2145" dy="21.5">欠缺，把欠缺补上来，如果</tspan><tspan x="2145" dy="21.5">消极情绪下，只会浪费时间，</tspan><tspan x="2145" dy="21.5">容易，做到难，这就需要自</tspan><tspan x="2145" dy="21.5">恢复积极的心态。</tspan></text>
<text class="t" x="2145" y="6923"><tspan>在教育实习过程中，我还开</tspan><tspan x="2145" dy="21.5">，是关于学生所期望的师生</tspan><tspan x="2145" dy="21.5">做了一份表格，发给三个班</tspan><tspan x="2145" dy="21.5">，收起来总结得出大家的一</tspan><tspan x="2145" dy="21.5">师益友"。我应该严格要求自</tspan></text>
<text class="t" x="2145" y="7081"><tspan>另外一项实习是班主任实习，</tspan><tspan x="2145" dy="21.5">间，我发现一个好的班级必</tspan><tspan x="2145" dy="21.5">比如一下课如果教室里的学</tspan><tspan x="2145" dy="21.5">或者在教师吵闹喧哗，其他</tspan><tspan x="2145" dy="21.5">至也会跟着玩。但是当下课</tspan><tspan x="2145" dy="21.5">悄悄走出去，不要影响到其</tspan><tspan x="2145" dy="21.5">会安静的呆在教师继续学习，</tspan><tspan x="2145" dy="21.5">课气氛也有好处;还有就是教</tspan><tspan x="2145" dy="21.5">注意，首先教室不卫生影响</tspan><tspan x="2145" dy="21.5">教室的卫生是一个好的班集</tspan><tspan x="2145" dy="21.5">话说的好"一屋不扫，何以扫</tspan><tspan x="2145" dy="21.5">便是一个人能否成功的评判</tspan><tspan x="2145" dy="21.5">合的卫生也是一个人道德的</tspan><tspan x="2145" dy="21.5">人后成才。还有的同学上早</tspan><tspan x="2145" dy="21.5">好，对高考不重视，这些问</tspan><tspan x="2145" dy="21.5">的班会上着重说到，让每一</tspan><tspan x="2145" dy="21.5">在的首要任务是什么，一定</tspan><tspan x="2145" dy="21.5">重视高考，重视第一轮复习，</tspan><tspan x="2145" dy="21.5">段。</tspan></text>
<text class="t" x="2145" y="7542"><tspan>这次实习我努力去完成了，</tspan><tspan x="2145" dy="21.5">触更深，教师这个职业并不</tspan><tspan x="2145" dy="21.5">都需要花心思在他们身上，</tspan><tspan x="2145" dy="21.5">绩提高时，你会感到无比的</tspan><tspan x="2145" dy="21.5">收获果实的那种快乐，会感</tspan><tspan x="2145" dy="21.5">的事业，学生不仅是你的学</tspan><tspan x="2145" dy="21.5">，也可以是你的老师，要重</tspan><tspan x="2145" dy="21.5">掘他们学习的兴趣，使每一</tspan><tspan x="2145" dy="21.5">高。关于此次实习我觉得要</tspan><tspan x="2145" dy="21.5">以展示、提高自己的机会，</tspan><tspan x="2145" dy="21.5">任何人在一起，都能学到知</tspan><tspan x="2145" dy="21.5">平。我要向成为一名优秀的</tspan></text>
</g>
</g>
</svg>
